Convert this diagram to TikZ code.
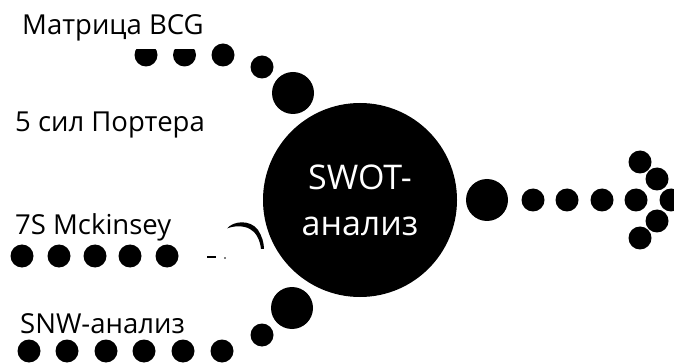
\documentclass[tikz,border=0pt]{standalone}
\usepackage{fontspec}
\setmainfont{Open Sans}
\begin{document}
\begin{tikzpicture}[x=1pt,y=-1pt,
  dot/.style={circle,fill=black,inner sep=0pt,minimum size=23pt},
  bigdot/.style={circle,fill=black,inner sep=0pt,minimum size=42pt},
  methodtext/.style={anchor=base west,inner sep=0pt,font=\fontsize{27.5}{29}\selectfont},
  hub/.style={circle,fill=black,inner sep=0pt,minimum size=194pt,text=white,
    align=center,font=\fontsize{34}{46}\selectfont},
]
\useasboundingbox (0,0) rectangle (674,363);

% central circle
\node[hub] (swot) at (360,200) {SWOT-\\анализ};

% method labels
\node[methodtext] (bcg) at (22,35) {Матрица BCG};
\node[methodtext] (porter) at (15,132) {5 сил Портера};
\node[methodtext] (mck) at (15,235) {7S Mckinsey};
\node[methodtext] (snw) at (20,333) {SNW-анализ};

% upper chain of dots (first two cut flat on top)
\begin{scope}
  \clip (100,50) rectangle (205,80);
  \node[dot] (t1) at (146,55) {};
  \node[dot] (t2) at (184.5,55) {};
\end{scope}
\node[dot] (t3) at (223,55) {};
\node[dot] (t4) at (262,67) {};
\node[bigdot] (t5) at (293,93) {};

% 7S row
\foreach \x [count=\i] in {22,59,95,130,167}
  \node[dot] (m\i) at (\x,256) {};

% broken arc and marks between the 7S row and the hub
\fill (227,228.5) .. controls (233,221) and (250,219) .. (258,230)
  .. controls (262,236) and (264,243) .. (264,249) -- (261,249)
  .. controls (260,240) and (256,232) .. (250,229)
  .. controls (243,225) and (233,226) .. (227,228.5) -- cycle;
\coordinate (d1) at (207,257);
\coordinate (d2) at (216,257);
\draw[line width=2pt] (d1) -- (d2);
\fill (225,258) circle (0.8);

% lower chain of dots
\node[bigdot] (b1) at (292,308) {};
\node[dot] (b2) at (262,335) {};
\foreach \x [count=\i] in {222,183,144,106,67,29}
  \node[dot] (s\i) at (\x,351) {};

% arrow of dots to the right
\node[bigdot] (r0) at (487,200) {};
\foreach \x [count=\i] in {533,567,602,636}
  \node[dot] (r\i) at (\x,200) {};
\node[dot] (a1) at (640,162) {};
\node[dot] (a2) at (657,179) {};
\node[dot] (a3) at (671,200) {};
\node[dot] (a4) at (657,221) {};
\node[dot] (a5) at (640,238) {};
\end{tikzpicture}
\end{document}
